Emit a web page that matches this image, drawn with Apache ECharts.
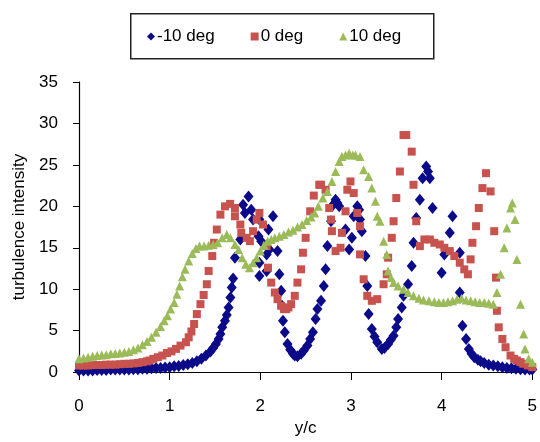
<!DOCTYPE html>
<html>
<head>
<meta charset="utf-8">
<script src="https://cdn.jsdelivr.net/npm/echarts@6/dist/echarts.min.js"></script>
<style>html,body{margin:0;padding:0;background:#fff;}#c{width:540px;height:442px;}</style>
</head>
<body>
<div id="c"></div>
<script>
const seriesNames = ['-10 deg', '0 deg', '10 deg'];
const xTicks = [0, 1, 2, 3, 4, 5];
const yTicks = [0, 5, 10, 15, 20, 25, 30, 35];

const minus10 = [
[0,0.2],[0.05,0.2],[0.1,0.2],[0.15,0.2],[0.2,0.25],[0.25,0.25],[0.3,0.25],[0.35,0.3],[0.4,0.3],[0.45,0.3],[0.5,0.3],[0.55,0.3],[0.6,0.35],[0.65,0.35],[0.7,0.4],[0.75,0.4],[0.8,0.45],[0.85,0.5],
[0.9,0.5],[0.95,0.55],[1.0,0.6],[1.05,0.7],[1.1,0.75],[1.15,0.85],[1.2,0.95],[1.25,1.1],[1.3,1.3],[1.35,1.6],[1.4,2.0],[1.45,2.5],[1.48,2.9],[1.51,3.4],[1.54,4.0],[1.56,4.6],[1.58,5.4],[1.61,6.2],[1.63,6.9],[1.65,7.8],[1.67,9.0],[1.685,10.2],[1.7,11.3],[1.72,13.8],
[1.78,16.0],[1.81,20.2],[1.83,19.2],[1.87,21.2],[1.9,19.6],[1.92,18.4],[1.98,16.4],[1.99,18.4],[2.01,15.8],[1.99,13.2],[1.99,11.6],[2.07,14.2],[2.07,12.2],[2.09,17.2],[2.1,14.8],[2.14,18.8],[2.19,14.6],[2.21,11.8],[2.23,9.8],[2.24,8.0],
[2.25,6.2],[2.27,4.8],[2.3,3.4],[2.33,2.7],[2.36,2.2],[2.38,2.0],[2.41,1.9],[2.45,2.2],[2.48,2.6],[2.52,3.2],[2.55,4.0],[2.58,4.8],[2.61,6.4],[2.63,7.6],[2.67,8.6],[2.7,10.4],[2.72,12.4],[2.74,15.2],[2.78,18.2],[2.79,20.0],[2.83,20.8],[2.85,20.4],[2.87,20.0],
[2.94,17.2],[2.98,14.8],[3.01,16.2],[3.03,18.8],[3.07,20.0],[3.09,19.6],[3.1,18.4],[3.12,17.0],[3.16,14.0],[3.18,10.4],[3.195,7.0],[3.23,5.2],[3.26,4.3],[3.29,3.6],[3.34,2.8],[3.37,2.9],[3.41,3.4],[3.44,3.9],[3.47,4.4],[3.5,5.4],[3.52,6.4],[3.56,7.8],[3.58,9.2],[3.63,10.6],[3.67,12.8],[3.69,15.6],[3.72,18.6],[3.76,20.8],[3.79,23.4],[3.83,24.8],[3.85,24.2],[3.87,23.4],[3.9,19.8],
[4.0,12.0],[4.03,14.2],[4.09,16.8],[4.12,18.8],[4.2,14.4],[4.2,9.6],[4.23,5.6],[4.27,4.0],[4.3,2.8],[4.33,2.2],[4.36,1.8],[4.4,1.5],[4.43,1.3],[4.47,1.1],[4.52,0.9],[4.57,0.8],[4.62,0.7],[4.67,0.6],[4.72,0.5],[4.77,0.45],[4.82,0.4],[4.87,0.35],[4.92,0.3],[4.97,0.3],[5.0,0.3]
];

const zero = [
[0,0.8],[0.05,0.8],[0.1,0.8],[0.15,0.85],[0.2,0.85],[0.25,0.85],[0.3,0.9],[0.35,0.9],[0.4,0.9],[0.45,0.95],[0.5,1.0],[0.55,1.0],[0.6,1.05],[0.65,1.1],[0.7,1.2],[0.75,1.3],
[0.78,1.4],[0.82,1.6],[0.87,1.8],[0.92,2.0],[0.97,2.3],[1.02,2.5],[1.07,2.8],[1.12,3.2],[1.18,3.6],[1.21,4.2],[1.24,4.9],[1.27,5.8],[1.3,7.0],[1.34,8.2],[1.375,9.3],[1.41,10.6],[1.43,12.2],[1.47,14.0],[1.49,15.6],[1.52,17.2],[1.56,19.0],[1.61,20.0],[1.667,20.3],
[1.72,19.8],[1.72,18.8],[1.78,17.8],[1.79,16.8],[1.85,16.2],[1.885,15.8],[1.92,17.0],[1.96,18.4],[1.99,19.2],[2.03,17.8],[2.07,15.2],[2.085,12.6],[2.12,10.8],[2.16,9.6],[2.19,8.8],[2.23,8.0],[2.26,7.6],[2.285,7.6],[2.31,7.8],[2.34,8.2],[2.38,9.2],[2.41,10.8],[2.45,12.4],[2.47,14.4],[2.5,16.2],[2.55,19.4],[2.59,21.3],[2.65,22.6],[2.67,22.6],[2.72,22.0],
[2.76,19.8],[2.78,18.4],[2.79,17.0],[2.83,14.6],[2.885,15.0],[2.9,16.8],[2.94,19.4],[2.96,22.0],[2.995,23.0],[3.03,21.6],[3.07,19.2],[3.1,17.6],[3.1,14.2],[3.14,11.2],[3.18,9.2],[3.23,8.6],[3.29,8.8],[3.36,10.6],[3.395,11.8],[3.41,13.8],[3.45,16.2],[3.47,18.2],[3.5,21.0],[3.54,24.2],[3.58,28.6],[3.61,28.6],[3.67,26.6],[3.69,22.6],[3.72,18.2],[3.76,15.2],
[3.81,16.0],[3.87,16.0],[3.92,15.6],[3.98,15.4],[4.03,15.0],[4.09,14.6],[4.14,14.0],[4.2,13.2],[4.25,12.4],[4.29,11.8],[4.32,13.6],[4.34,15.6],[4.38,17.6],[4.41,19.8],[4.45,22.2],[4.49,24.0],[4.54,21.8],[4.58,17.0],[4.6,11.4],[4.61,7.4],[4.63,5.4],[4.67,4.0],[4.705,3.0],[4.76,2.0],[4.8,1.6],[4.83,1.4],[4.87,1.2],[4.9,1.0],[4.95,0.8],[5.0,0.6]
];

const plus10 = [
[0,1.6],[0.05,1.7],[0.1,1.8],[0.15,1.9],[0.2,2.0],[0.25,2.05],[0.3,2.1],[0.35,2.2],[0.4,2.25],[0.45,2.3],[0.5,2.4],[0.55,2.5],[0.6,2.7],[0.65,2.9],[0.7,3.3],[0.75,3.7],[0.8,4.2],[0.85,4.8],[0.9,5.5],[0.94,6.2],[0.975,6.8],[1.01,7.6],[1.05,8.4],[1.08,9.4],[1.11,10.4],[1.14,11.5],[1.17,12.4],[1.21,13.4],[1.25,14.3],[1.29,14.9],[1.33,15.2],[1.38,15.2],[1.43,15.3],[1.48,15.4],[1.53,15.6],[1.58,16.2],[1.63,16.6],[1.67,16.2],[1.72,15.4],[1.76,14.8],[1.8,13.8],[1.84,13.0],[1.88,12.6],[1.92,13.2],[1.96,13.8],[2.0,14.6],[2.04,15.3],[2.08,15.8],[2.12,16.0],[2.16,16.2],[2.21,16.4],[2.26,16.6],[2.31,16.9],[2.36,17.1],[2.41,17.5],[2.46,17.8],[2.51,18.3],[2.56,18.7],[2.6,19.2],[2.64,20.0],[2.69,21.0],[2.74,21.8],[2.79,23.0],[2.83,24.2],[2.87,25.4],[2.9,26.0],[2.94,26.2],[2.98,26.4],[3.02,26.2],[3.05,26.2],[3.1,26.0],[3.14,24.4],[3.195,23.6],[3.23,22.2],[3.27,20.6],[3.29,18.8],[3.32,18.2],[3.36,15.8],[3.395,14.2],[3.41,12.2],[3.44,11.4],[3.47,10.8],[3.52,10.4],[3.58,10.0],[3.63,9.6],[3.69,9.2],[3.75,8.9],[3.8,8.7],[3.86,8.6],[3.92,8.5],[3.97,8.4],[4.02,8.4],[4.07,8.5],[4.12,8.6],[4.17,8.8],[4.22,8.9],[4.27,8.7],[4.32,8.6],[4.37,8.5],[4.42,8.4],[4.47,8.4],[4.52,8.3],[4.57,8.2],[4.61,9.6],[4.65,11.8],[4.69,15.0],[4.72,17.4],[4.76,19.8],[4.78,20.4],[4.81,18.4],[4.83,13.6],[4.87,8.2],[4.905,4.6],[4.92,2.8],[4.96,1.6],[5.0,1.2]
];

const chart = echarts.init(document.getElementById('c'), null, {renderer: 'canvas'});
const font = 'Liberation Sans, Arial, sans-serif';
chart.setOption({
  animation: false,
  backgroundColor: '#fff',
  graphic: [{
    type: 'rect', left: 130, top: 13, shape: {width: 303, height: 45},
    style: {fill: '#fff', stroke: '#222', lineWidth: 1.5}, z: 0
  }],
  legend: {
    data: [
      {name: seriesNames[0], icon: 'diamond'},
      {name: seriesNames[1], icon: 'rect'},
      {name: seriesNames[2], icon: 'triangle'}
    ],
    left: 142, top: 23,
    itemWidth: 8, itemHeight: 8, itemGap: 36,
    textStyle: {fontFamily: font, fontSize: 17, color: '#000', padding: [0, 0, 0, -3]},
    z: 5
  },
  grid: {left: 79, right: 3, top: 82, bottom: 69, containLabel: false},
  xAxis: {
    type: 'value', min: 0, max: 5, interval: 1,
    name: 'y/c', nameLocation: 'middle', nameGap: 46,
    nameTextStyle: {fontFamily: font, fontSize: 17, color: '#000'},
    axisLine: {onZero: false, lineStyle: {color: '#000', width: 1.2}},
    axisTick: {show: true, length: 8, lineStyle: {color: '#000'}},
    axisLabel: {fontFamily: font, fontSize: 17, color: '#000', margin: 26,
      formatter: v => xTicks.includes(v) ? String(v) : ''},
    splitLine: {show: false}
  },
  yAxis: {
    type: 'value', min: 0, max: 35, interval: 5,
    name: 'turbulence intensity', nameLocation: 'middle', nameGap: 50,
    nameTextStyle: {fontFamily: font, fontSize: 17, color: '#000'},
    axisLine: {show: true, lineStyle: {color: '#000', width: 1.2}},
    axisTick: {show: true, length: 6, lineStyle: {color: '#000'}},
    axisLabel: {fontFamily: font, fontSize: 17, color: '#000', margin: 21,
      formatter: v => yTicks.includes(v) ? String(v) : ''},
    splitLine: {show: false}
  },
  series: [
    {name: seriesNames[0], type: 'scatter', symbol: 'diamond', symbolSize: [10, 12],
     itemStyle: {color: '#0b0b8a', opacity: 1}, data: minus10, clip: false},
    {name: seriesNames[1], type: 'scatter', symbol: 'rect', symbolSize: 8,
     itemStyle: {color: '#c8524e', opacity: 1}, data: zero, clip: false},
    {name: seriesNames[2], type: 'scatter', symbol: 'triangle', symbolSize: 9,
     itemStyle: {color: '#9bbb59', opacity: 1}, data: plus10, clip: false}
  ]
});
</script>
</body>
</html>
